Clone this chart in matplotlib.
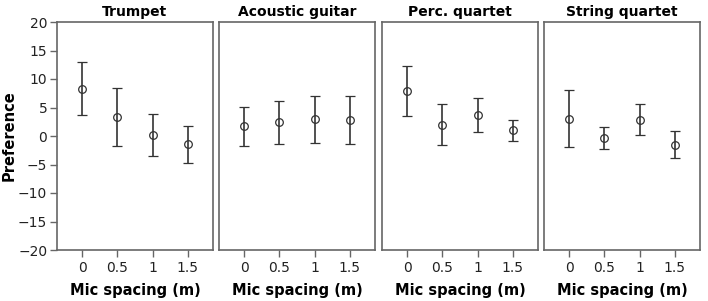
import numpy as np
import matplotlib
matplotlib.use('Agg')
import matplotlib.pyplot as plt

# 数据
titles = ['Trumpet', 'Acoustic guitar', 'Perc. quartet', 'String quartet']
spacing = [0, 0.5, 1, 1.5]
spacing_labels = ['0', '0.5', '1', '1.5']

trumpet_mean = [8.3, 3.3, 0.2, -1.4]
trumpet_lo = [3.7, -1.8, -3.5, -4.7]
trumpet_hi = [13.0, 8.4, 3.9, 1.8]

guitar_mean = [1.7, 2.4, 2.9, 2.8]
guitar_lo = [-1.7, -1.4, -1.3, -1.4]
guitar_hi = [5.1, 6.2, 7.0, 7.0]

perc_mean = [7.9, 2.0, 3.6, 1.0]
perc_lo = [3.5, -1.6, 0.7, -0.9]
perc_hi = [12.3, 5.6, 6.6, 2.8]

string_mean = [3.0, -0.3, 2.8, -1.5]
string_lo = [-2.0, -2.2, 0.1, -3.9]
string_hi = [8.0, 1.6, 5.6, 0.9]

means = [trumpet_mean, guitar_mean, perc_mean, string_mean]
lows = [trumpet_lo, guitar_lo, perc_lo, string_lo]
highs = [trumpet_hi, guitar_hi, perc_hi, string_hi]

plt.rcParams['font.family'] = ['DejaVu Sans']

fig = plt.figure(figsize=(7.08, 3.01), dpi=100)
lefts = [57, 219, 382, 544]
W, H = 708, 301
frame = '#666666'
ink = '#333333'

for i in range(4):
    ax = fig.add_axes([lefts[i] / W, 51 / H, 156 / W, 228 / H])
    m = np.array(means[i])
    lo = m - np.array(lows[i])
    hi = np.array(highs[i]) - m
    ax.errorbar(spacing, m, yerr=[lo, hi], fmt='o', mfc='none', mec=ink,
                ms=5.5, mew=0.9, ecolor=ink, elinewidth=1.2, capsize=3.6,
                capthick=1.2)
    ax.set_xlim(-0.36, 1.86)
    ax.set_ylim(-20, 20)
    ax.set_xticks(spacing)
    ax.set_xticklabels(spacing_labels, fontsize=10, color='#222222')
    ax.set_title(titles[i], fontsize=10, fontweight='bold', pad=4)
    ax.set_xlabel('Mic spacing (m)', fontsize=10.5, fontweight='bold', labelpad=6)
    for s in ax.spines.values():
        s.set_color(frame)
        s.set_linewidth(1.2)
    ax.tick_params(axis='x', length=5, width=1, color=frame, pad=3)
    if i == 0:
        ax.set_yticks(np.arange(-20, 21, 5))
        ax.tick_params(axis='y', length=5, width=1, color=frame, labelsize=10,
                       labelcolor='#222222', pad=2)
        ax.set_ylabel('Preference', fontsize=10.5, fontweight='bold', labelpad=1)
    else:
        ax.set_yticks([])

fig.savefig('out.png', dpi=100)
